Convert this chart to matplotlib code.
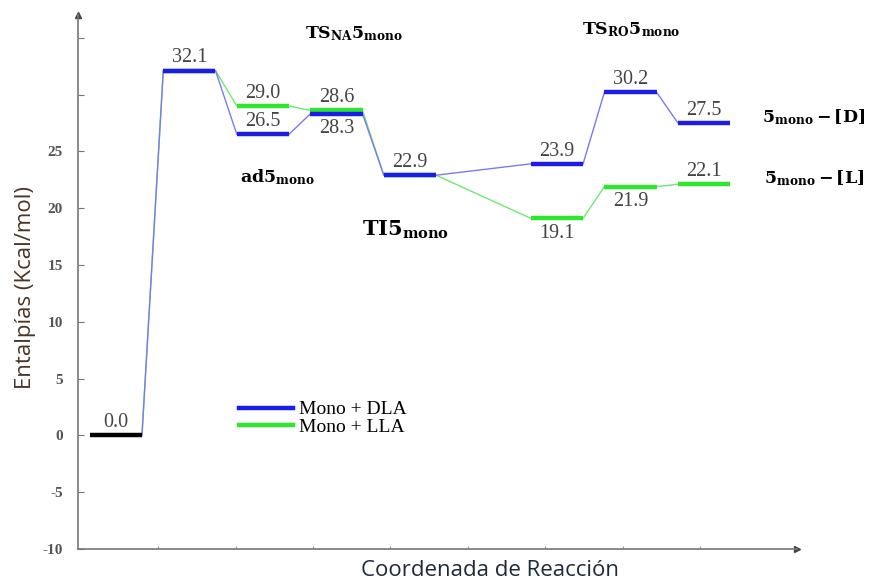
import numpy as np
import matplotlib.pyplot as plt

plt.rcParams["mathtext.fontset"] = "custom"
plt.rcParams["mathtext.bf"] = "DejaVu Serif:bold"
plt.rcParams["mathtext.rm"] = "DejaVu Serif:bold"

# reaction coordinate slots (slot 5 left empty)
stages = [0, 1, 2, 3, 4, 6, 7, 8]
dla = [0.0, 32.1, 26.5, 28.3, 22.9, 23.9, 30.2, 27.5]
lla = [0.0, 32.1, 29.0, 28.6, 22.9, 19.1, 21.9, 22.1]

# which values get a number printed, and on which side of the level
dla_labels = {1: "above", 2: "above", 3: "below", 4: "above", 5: "above", 6: "above", 7: "above"}
lla_labels = {2: "above", 3: "above", 5: "below", 6: "below", 7: "above"}

# species names: text, x, y, size
state_names = [
    (r"$\mathbf{TS_{NA}5_{mono}}$", 3.59, 35.4, 12.5),
    (r"$\mathbf{ad5_{mono}}$", 2.55, 22.7, 12.5),
    (r"$\mathbf{TI5_{mono}}$", 4.3, 18.05, 15),
    (r"$\mathbf{TS_{RO}5_{mono}}$", 7.37, 35.7, 12.5),
    (r"$\mathbf{5_{mono}-[D]}$", 9.85, 28.0, 12.5),
    (r"$\mathbf{5_{mono}-[L]}$", 9.85, 22.6, 12.5),
]

width = 0.71
blue, blue_thin = "#1c1ce6", "#7a7af2"
green, green_thin = "#2ee62e", "#6fe86f"
num_color = "#444444"

fig = plt.figure(figsize=(8.75, 5.83), dpi=100)
ax = fig.add_axes([78 / 875, 34 / 583, 719 / 875, 534 / 583])


def draw_path(values, thick, thin, z):
    for k in range(len(stages) - 1):
        ax.plot([stages[k] + width, stages[k + 1]], [values[k], values[k + 1]],
                color=thin, lw=1.0, zorder=z)
    for k in range(1, len(stages)):
        ax.plot([stages[k], stages[k] + width], [values[k], values[k]],
                color=thick, lw=3.2, solid_capstyle="butt", zorder=z + 1)


draw_path(lla, green, green_thin, 2)
draw_path(dla, blue, blue_thin, 4)
ax.plot([stages[0], stages[0] + width], [dla[0], dla[0]], color="black", lw=3.2,
        solid_capstyle="butt", zorder=6)

# legend proxies
ax.plot([], [], color=blue, lw=3.2, label="Mono + DLA")
ax.plot([], [], color=green, lw=3.2, label="Mono + LLA")


def put_number(x, y, side):
    dy = 6 if side == "above" else -4
    va = "baseline" if side == "above" else "top"
    ax.annotate(f"{y:.1f}", (x + width / 2, y), xytext=(0, dy), textcoords="offset points",
                ha="center", va=va, fontsize=14.5, color=num_color, family="Liberation Serif",
                zorder=8)


put_number(stages[0], dla[0], "above")
for k, side in dla_labels.items():
    put_number(stages[k], dla[k], side)
for k, side in lla_labels.items():
    put_number(stages[k], lla[k], side)

for txt, x, y, fs in state_names:
    ax.text(x, y, txt, fontsize=fs, ha="center", va="center", color="black")

ax.set_xlim(-0.16, 9.62)
ax.set_ylim(-10, 37)

for s in ["top", "right"]:
    ax.spines[s].set_visible(False)
for s in ["left", "bottom"]:
    ax.spines[s].set_color("#777777")
    ax.spines[s].set_linewidth(1.2)
ax.plot(1, 0, ">", color="#444444", ms=5, transform=ax.transAxes, clip_on=False)
ax.plot(0, 1, "^", color="#444444", ms=5, transform=ax.transAxes, clip_on=False)

yt = np.arange(-10, 36, 5)
ax.set_yticks(yt)
ax.set_yticklabels([str(v) if v <= 25 else "" for v in yt])
ax.set_xticks(np.linspace(0.93, 8.3, 8))
ax.set_xticklabels([])
ax.tick_params(axis="y", direction="in", length=4, color="#777777", labelsize=11,
               labelcolor="#555555", pad=11)
ax.tick_params(axis="x", direction="in", length=2, color="#999999")
for lab in ax.get_yticklabels():
    lab.set_family("Liberation Serif")
    lab.set_fontweight("bold")

ax.set_ylabel("Entalpías (Kcal/mol)", fontsize=16, color="#4a3424", family="Open Sans")
ax.yaxis.set_label_coords(-0.073, 0.49)
ax.yaxis.label.set_va("center")
ax.set_xlabel("Coordenada de Reacción", fontsize=16, color="#1e2a3c", family="Open Sans")
ax.xaxis.set_label_coords(0.573, -0.041)
ax.xaxis.label.set_va("center")

ax.legend(loc="upper left", bbox_to_anchor=(0.213, 0.292), frameon=False,
          prop={"family": "Liberation Serif", "size": 14}, handlelength=2.8,
          handletextpad=0.3, labelspacing=0.0, borderaxespad=0)

fig.savefig("out.png", dpi=100)
